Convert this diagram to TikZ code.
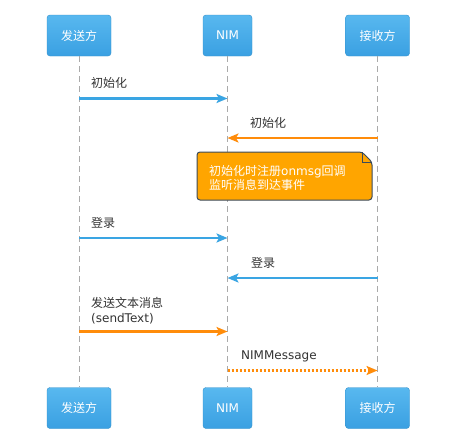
\documentclass[tikz,border=0pt]{standalone}
\usepackage{fontspec}
\setmainfont{DejaVu Sans}
\newfontfamily\cjk{Noto Sans CJK SC}
\usetikzlibrary{arrows.meta}
\definecolor{boxtop}{HTML}{58B8EF}
\definecolor{boxbot}{HTML}{3AA0E2}
\definecolor{msgblue}{HTML}{3AA5E3}
\definecolor{msgorange}{HTML}{FF8C0A}
\definecolor{notefill}{HTML}{FFA500}
\definecolor{noteline}{HTML}{3B4B5B}
\definecolor{lifegray}{HTML}{AAAAAA}
\definecolor{labelgray}{HTML}{333333}
\begin{document}
\begin{tikzpicture}[x=1pt,y=-1pt,
  actor/.style={rounded corners=3pt, top color=boxtop, bottom color=boxbot, draw=boxbot!90!black, line width=0.4pt,
    minimum width=64pt, minimum height=41pt, text=white, font=\cjk\fontsize{12}{14}\selectfont},
  nimactor/.style={actor, minimum width=49pt, font=\fontsize{12}{14}\selectfont},
  life/.style={draw=lifegray, line width=1pt, dash pattern=on 6pt off 4pt},
  msg/.style={line width=2.5pt, -{Stealth[length=11pt,width=9pt,inset=2.5pt]}},
  lbl/.style={anchor=west, text=labelgray, font=\fontsize{12}{15}\selectfont, inner sep=0pt, align=left}
]
\useasboundingbox (0,0) rectangle (452,442);
\fill[white] (0,0) rectangle (452,442);

\node[actor] (s1) at (79,35.5) {发送方};
\node[nimactor] (n1) at (227.5,35.5) {NIM};
\node[actor] (r1) at (377.5,35.5) {接收方};
\node[actor] (s2) at (79,408) {发送方};
\node[nimactor] (n2) at (227.5,408) {NIM};
\node[actor] (r2) at (377.5,408) {接收方};

\draw[life] (s1) -- (s2);
\draw[life] (n1) -- (n2);
\draw[life] (r1) -- (r2);

% 1
\coordinate (m1) at (79,98.5);
\draw[msg, msgblue] (m1) -- (m1 -| n1);
\node[lbl] (l1) at (91,83) {{\cjk 初始化}};
% 2
\coordinate (m2) at (377.5,138);
\draw[msg, msgorange] (m2) -- (m2 -| n1);
\node[lbl] (l2) at (250,123) {{\cjk 初始化}};
% note
\coordinate (na) at (197,152);
\coordinate (nb) at (362,152);
\coordinate (nc) at (372,162);
\coordinate (nd) at (372,200);
\coordinate (ne) at (197,200);
\draw[noteline, fill=notefill, line width=1pt, rounded corners=3pt] (na) -- (nb) -- (nc) -- (nd) -- (ne) -- cycle;
\draw[noteline, line width=1pt] (nb) -- (nb |- nc) -- (nc);
\node[lbl, text=white, font=\fontsize{12}{14}\selectfont] (nt) at (209,177.5) {{\cjk 初始化时注册}onmsg{\cjk 回调}\\{\cjk 监听消息到达事件}};
% 3
\coordinate (m3) at (79,238);
\draw[msg, msgblue] (m3) -- (m3 -| n1);
\node[lbl] (l3) at (91,223) {{\cjk 登录}};
% 4
\coordinate (m4) at (377.5,278);
\draw[msg, msgblue] (m4) -- (m4 -| n1);
\node[lbl] (l4) at (251,263) {{\cjk 登录}};
% 5
\coordinate (m5) at (79,331.5);
\draw[msg, msgorange] (m5) -- (m5 -| n1);
\node[lbl] (l5) at (91,310.5) {{\cjk 发送文本消息}\\(sendText)};
% 6
\coordinate (m6) at (227.5,370.5);
\draw[msg, msgorange, dash pattern=on 2.5pt off 1.5pt] (m6) -- (m6 -| r1);
\node[lbl] (l6) at (241,356) {NIMMessage};
\end{tikzpicture}
\end{document}
